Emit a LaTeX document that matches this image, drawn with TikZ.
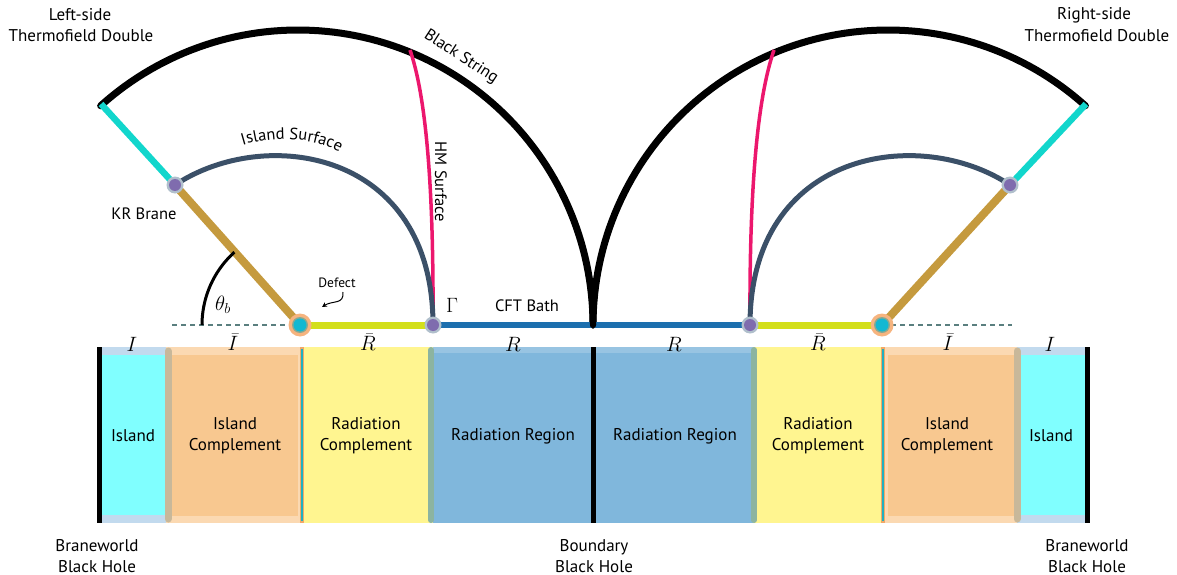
\documentclass[tikz,border=0pt]{standalone}
\usepackage{fontspec}
\setmainfont{PT Sans}
\usetikzlibrary{decorations.text,arrows.meta}
\definecolor{branecyan}{HTML}{12D6CC}
\definecolor{branegold}{HTML}{C59A3E}
\definecolor{islsurf}{HTML}{3B5068}
\definecolor{hmpink}{HTML}{EC176D}
\definecolor{ygline}{HTML}{D3DF1A}
\definecolor{bathblue}{HTML}{1C6FAE}
\definecolor{dashcol}{HTML}{5A7F7F}
\definecolor{stripcyan}{HTML}{80FFFF}
\definecolor{cyanedge}{HTML}{C2DAEE}
\definecolor{orangein}{HTML}{F8C890}
\definecolor{orangeout}{HTML}{FBD9B2}
\definecolor{yel}{HTML}{FFF590}
\definecolor{blu}{HTML}{80B7DC}
\definecolor{blutop}{HTML}{98C4E2}
\definecolor{greybar}{HTML}{C8B89A}
\definecolor{greenbar}{HTML}{8CB4A0}
\definecolor{defout}{HTML}{F6B47F}
\definecolor{defring}{HTML}{8AA890}
\definecolor{defin}{HTML}{12B8D2}
\definecolor{gamhalo}{HTML}{B0BFCC}
\definecolor{gamin}{HTML}{7F6CAE}
\definecolor{tealline}{HTML}{20B0C0}
\definecolor{orangeline}{HTML}{F0A868}
\tikzset{
  lbl/.style={font=\fontsize{16.5}{19}\selectfont, inner sep=0pt, align=center},
  biglbl/.style={font=\fontsize{17}{21}\selectfont, inner sep=0pt, align=center},
  mlbl/.style={font=\fontsize{22}{24}\selectfont, inner sep=0pt},
  blackarc/.style={line width=7pt, black, line cap=round},
  islline/.style={line width=5pt, islsurf},
  hmline/.style={line width=3.5pt, hmpink},
  blackbar/.style={line width=5pt, black},
}
\begin{document}
\begin{tikzpicture}[x=1pt,y=-1pt]
\useasboundingbox (0,0) rectangle (1177,575);

% ---------- key points ----------
\coordinate (DL) at (300,325);
\coordinate (DR) at (882,325);
\coordinate (GL) at (433,325);
\coordinate (GR) at (750,325);
\coordinate (BL) at (175,185);
\coordinate (BR) at (1010,185);
\coordinate (EL) at (101,104);
\coordinate (ER) at (1086,104);
\coordinate (C) at (593,325);
\coordinate (HL) at (410,50);
\coordinate (HR) at (774,50);
\coordinate (XL) at (172,325);
\coordinate (XR) at (1012,325);

% ---------- dashed baseline ----------
\draw[dashcol, line width=1.2pt, dash pattern=on 5pt off 4pt] (XL) -- (DL);
\draw[dashcol, line width=1.2pt, dash pattern=on 5pt off 4pt] (DR) -- (XR);

% ---------- black string arcs ----------
\draw[blackarc] plot[domain=0:132, samples=90] ({298+295*cos(\x)},{325-295*sin(\x)});
\draw[blackarc] plot[domain=48:180, samples=90] ({888+295*cos(\x)},{325-295*sin(\x)});

% ---------- HM surfaces ----------
\draw[hmline] (GL) .. controls (434,150) and (421,82) .. (HL);
\draw[hmline] (GR) .. controls (749,150) and (763,82) .. (HR);

% ---------- island surfaces ----------
\draw[islline] (BL) .. controls (265,125) and (433,150) .. (GL);
\draw[islline] (BR) .. controls (920,125) and (750,150) .. (GR);

% ---------- branes ----------
\draw[branecyan, line width=6.5pt] (BL) -- (EL);
\draw[branegold, line width=8pt] (DL) -- (BL);
\draw[branecyan, line width=6.5pt] (BR) -- (ER);
\draw[branegold, line width=8pt] (DR) -- (BR);

% ---------- bath ----------
\draw[ygline, line width=7pt] (DL) -- (GL);
\draw[ygline, line width=7pt] (GR) -- (DR);
\draw[bathblue, line width=5.5pt] (GL) -- (GR);
\draw[line width=6pt, black, line cap=round] plot[domain=0:12, samples=10] ({298+295*cos(\x)},{325-295*sin(\x)});
\draw[line width=6pt, black, line cap=round] plot[domain=168:180, samples=10] ({888+295*cos(\x)},{325-295*sin(\x)});

% ---------- theta arc ----------
\draw[black, line width=3pt] plot[domain=132:180, samples=40] ({300+98*cos(\x)},{325-98*sin(\x)});

% ---------- markers ----------
\foreach \p in {DL,DR}{
  \fill[defout] (\p) circle (11.5pt);
  \fill[defring] (\p) circle (8pt);
  \fill[defin] (\p) circle (6.5pt);
}
\foreach \p in {GL,GR,BL,BR}{
  \fill[gamhalo] (\p) circle (8.5pt);
  \fill[gamin] (\p) circle (6pt);
}

% ---------- labels on the bulk ----------
\node[biglbl] (tl1) at (80,15) {Left-side};
\node[biglbl] (tl2) at (81,36) {Thermofield Double};
\node[biglbl] (tr1) at (1094,15) {Right-side};
\node[biglbl] (tr2) at (1097,36) {Thermofield Double};
\node[lbl, rotate=-33] (bs) at (461,57) {Black String};
\path[decorate, decoration={text along path, text align=center,
  text={|\fontsize{16.5}{19}\selectfont|Island Surface}}]
  (224,153) .. controls (260,134) and (322,132) .. (356,164);
\node[lbl, rotate=-90] (hm) at (441,182) {HM Surface};
\node[lbl] (kr) at (144,214) {KR Brane};
\node[font=\fontsize{13.5}{15}\selectfont, inner sep=0pt] (df) at (337,283) {Defect};
\draw[black, line width=1pt, -{Stealth[length=5pt,width=5pt]}] (343,292) .. controls (344,305) and (333,300) .. (322,307);
\node[mlbl] (gam) at (452,305) {$\Gamma$};
\node[lbl] (cft) at (527,306) {CFT Bath};
\node[mlbl] (th) at (223,305) {$\theta_b$};

% ---------- strip ----------
% left island
\fill[cyanedge] (99,347) rectangle (170,523);
\fill[stripcyan] (99,355) rectangle (168,515);
% left island complement
\fill[orangeout] (166,347) rectangle (304,523);
\fill[orangein] (172,355) rectangle (298,516);
% left radiation complement
\fill[yel] (304,347) rectangle (433,523);
% radiation regions
\fill[blu] (433,347) rectangle (753,523);
\fill[blutop] (433,347) rectangle (753,353);
% right radiation complement
\fill[yel] (753,347) rectangle (882,523);
% right island complement
\fill[orangeout] (882,347) rectangle (1020,523);
\fill[orangein] (888,355) rectangle (1014,516);
% right island
\fill[cyanedge] (1017,347) rectangle (1087,523);
\fill[stripcyan] (1019,355) rectangle (1087,515);
% separators
\draw[greybar, line width=7pt, line cap=round] (168,351) -- (168,519);
\draw[greybar, line width=7pt, line cap=round] (1017,351) -- (1017,519);
\draw[greenbar, line width=6pt, line cap=round] (431,350) -- (431,520);
\draw[greenbar, line width=6pt, line cap=round] (754,350) -- (754,520);
\draw[orangeline, line width=4pt] (302,347) -- (302,523);
\draw[tealline, line width=1.5pt] (302,349) -- (302,521);
\draw[orangeline, line width=4pt] (883,347) -- (883,523);
\draw[tealline, line width=1.5pt] (883,349) -- (883,521);
\draw[blackbar] (99,347) -- (99,523);
\draw[blackbar] (593,347) -- (593,523);
\draw[blackbar] (1087,347) -- (1087,523);

% strip math labels
\node[mlbl] (m1) at (132,344) {$I$};
\node[mlbl] (m2) at (233,342) {$\bar{I}$};
\node[mlbl] (m3) at (368,342) {$\bar{R}$};
\node[mlbl] (m4) at (513,344) {$R$};
\node[mlbl] (m5) at (674,344) {$R$};
\node[mlbl] (m6) at (818,342) {$\bar{R}$};
\node[mlbl] (m7) at (948,342) {$\bar{I}$};
\node[mlbl] (m8) at (1050,344) {$I$};

% strip text labels
\node[biglbl] (s1) at (133,436) {Island};
\node[biglbl] (s2) at (235,436) {Island\\Complement};
\node[biglbl] (s3) at (366,436) {Radiation\\Complement};
\node[biglbl] (s4) at (513,436) {Radiation Region};
\node[biglbl] (s5) at (675,436) {Radiation Region};
\node[biglbl] (s6) at (818,436) {Radiation\\Complement};
\node[biglbl] (s7) at (947,436) {Island\\Complement};
\node[biglbl] (s8) at (1051,436) {Island};

% bottom labels
\node[biglbl] (b1) at (97,556) {Braneworld\\Black Hole};
\node[biglbl] (b2) at (594,556) {Boundary\\Black Hole};
\node[biglbl] (b3) at (1087,556) {Braneworld\\Black Hole};
\end{tikzpicture}
\end{document}
